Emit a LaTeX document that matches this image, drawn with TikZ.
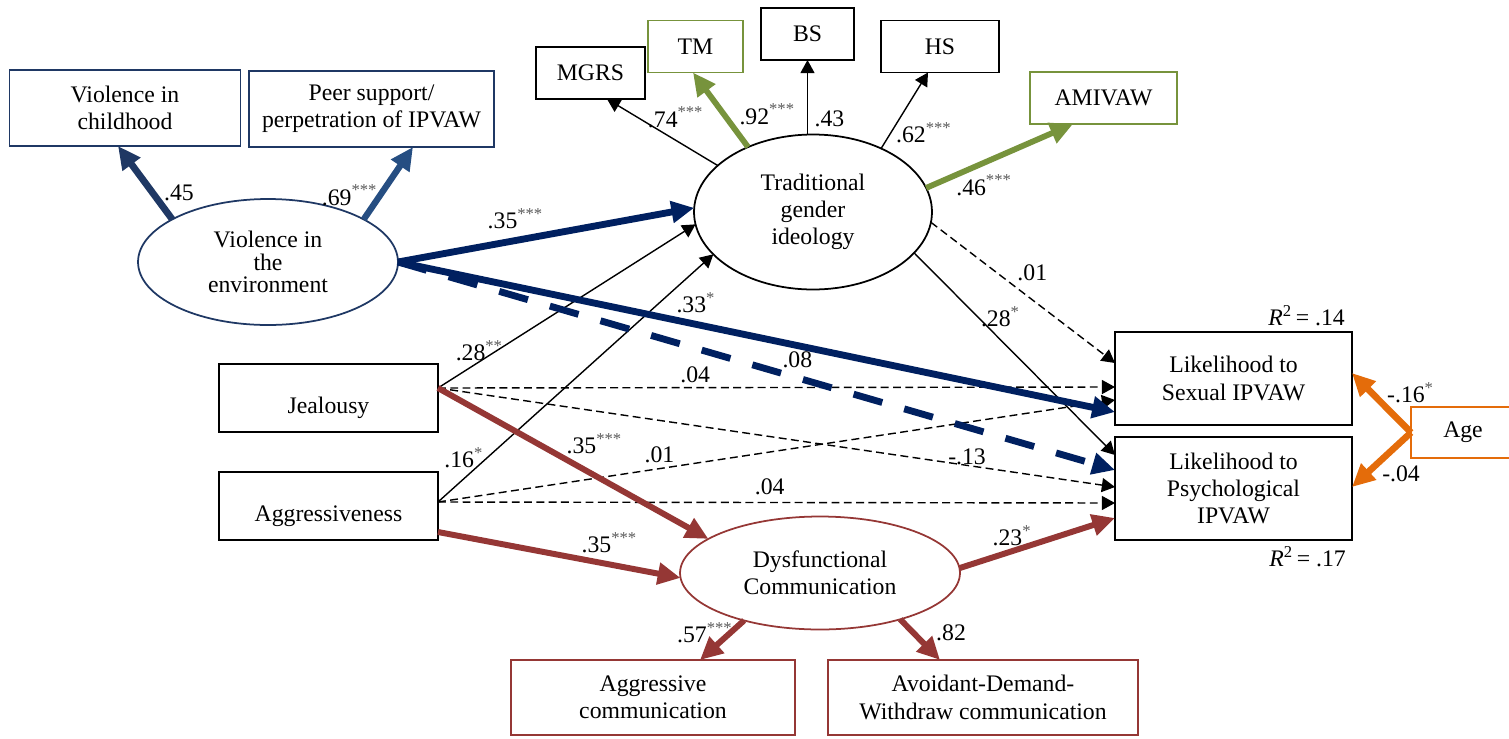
\documentclass[tikz,border=0pt]{standalone}
\usepackage{fontspec}
\setmainfont{Liberation Serif}
\usetikzlibrary{shapes.geometric, arrows.meta, positioning}
\definecolor{navy}{RGB}{0,32,96}
\definecolor{envblue}{RGB}{31,56,100}
\definecolor{peerblue}{RGB}{38,78,130}
\definecolor{tgigreen}{RGB}{119,147,60}
\definecolor{brick}{RGB}{149,55,53}
\definecolor{ageorange}{RGB}{228,108,10}
\newcommand{\dfont}{\fontsize{13.5}{15.5}\selectfont}
\newcommand{\sig}[1]{\textsuperscript{\textcolor{black!65}{#1}}}

\begin{document}
\begin{tikzpicture}[x=0.02cm, y=-0.02cm,
  obs/.style={rectangle, draw=black, line width=1pt, minimum height=1.04cm, inner sep=2pt, outer sep=0pt, align=center, font=\dfont},
  lat/.style={ellipse, draw=black, line width=1pt, inner sep=1pt, outer sep=0pt, align=center, font=\dfont},
  lowtxt/.style={text height=18.9pt, text depth=1.6pt},
  lbl/.style={inner sep=1pt, font=\dfont, text=black},
  arr/.style={-{Triangle[length=7.5pt,width=8pt]}, line width=0.8pt},
  dsh/.style={arr, dash pattern=on 4.5pt off 2.5pt},
  fat/.style={-{Triangle[length=13pt,width=12pt]}, line width=3.6pt},
  navyarr/.style={fat, color=navy, line width=3.9pt},
  navydash/.style={navyarr, dash pattern=on 17pt off 13pt},
  grnarr/.style={fat, color=tgigreen, line width=3.3pt},
  redarr/.style={fat, color=brick, line width=3.4pt},
  orgarr/.style={fat, color=ageorange, line width=3.8pt}
]
  \useasboundingbox (0,0) rectangle (1509,738);

  % violence in the environment
  \node[obs, draw=envblue, minimum width=4.62cm, minimum height=1.52cm] (child) at (125,108) {Violence in\\childhood};
  \node[obs, draw=envblue, minimum width=4.9cm, minimum height=1.52cm] (peer) at (371.5,109) {Peer support/\\perpetration of IPVAW};
  \node[lat, draw=envblue, minimum width=5.2cm, minimum height=2.52cm, font=\fontsize{13.5}{13}\selectfont] (env) at (268,262) {Violence in\\the\\environment};

  % traditional gender ideology
  \node[obs, minimum width=2.18cm] (mgrs) at (590.5,73) {MGRS};
  \node[obs, draw=tgigreen, line width=0.9pt, minimum width=1.9cm] (tm) at (695.5,46.5) {TM};
  \node[obs, minimum width=1.86cm] (bs) at (807.5,34) {BS};
  \node[obs, minimum width=2.36cm] (hs) at (940,46.5) {HS};
  \node[obs, draw=tgigreen, line width=0.9pt, minimum width=2.94cm] (amivaw) at (1103.5,98) {AMIVAW};
  \node[lat, minimum width=4.76cm, minimum height=3.1cm] (tgi) at (813,212) {Traditional\\gender\\ideology};

  % predictors and outcomes
  \node[obs, lowtxt, minimum width=4.38cm, minimum height=1.36cm] (jeal) at (328.5,398) {Jealousy};
  \node[obs, lowtxt, minimum width=4.38cm, minimum height=1.36cm] (aggr) at (328.5,506) {Aggressiveness};
  \node[obs, minimum width=4.74cm, minimum height=1.86cm] (sex) at (1233.5,378.5) {Likelihood to\\Sexual IPVAW};
  \node[obs, minimum width=4.74cm, minimum height=2.06cm] (psy) at (1233.5,488.5) {Likelihood to\\Psychological\\IPVAW};
  \node[obs, draw=ageorange, line width=0.9pt, minimum width=2.08cm, minimum height=1.02cm] (age) at (1463,432.5) {Age};
  \node[lbl, anchor=south east] (r2sex) at ([xshift=-0.1cm,yshift=0.08cm]sex.north east) {\textit{R}\textsuperscript{2}\,= .14};
  \node[lbl, anchor=north east] (r2psy) at ([xshift=-0.08cm,yshift=-0.08cm]psy.south east) {\textit{R}\textsuperscript{2}\,= .17};

  % dysfunctional communication
  \node[lat, draw=brick, minimum width=5.6cm, minimum height=2.26cm] (dysf) at (820,573) {Dysfunctional\\Communication};
  \node[obs, draw=brick, line width=0.9pt, minimum width=5.68cm, minimum height=1.5cm] (aggcom) at (653,697.5) {Aggressive\\communication};
  \node[obs, draw=brick, line width=0.9pt, minimum width=6.2cm, minimum height=1.5cm] (adw) at (983,697.5) {Avoidant-Demand-\\Withdraw communication};

  % thin paths
  \draw[arr] (tgi.154) -- node[lbl, pos=.47, shift={(10,-17)}] {.74\sig{***}} ([xshift=0.33cm]mgrs.south);
  \draw[arr] (tgi.north -| bs.south) -- node[lbl, pos=.21, shift={(22,0)}] {.43} (bs.south);
  \draw[arr] (tgi.43) -- node[lbl, pos=.4, shift={(24,15)}] {.62\sig{***}} ([xshift=-0.24cm]hs.south);
  \draw[dsh] (tgi.355) -- node[lbl, pos=.48, shift={(13,-17)}] {.01} ([yshift=0.31cm]sex.west);
  \draw[arr] (tgi.338) -- node[lbl, pos=.37, shift={(12,-11)}] {.28\sig{*}} ([yshift=0.67cm]psy.west);
  \draw[arr] ([yshift=0.2cm]jeal.east) -- node[lbl, pos=.18, shift={(-5,-8)}] {.28\sig{**}} (tgi.186);
  \draw[arr] ([yshift=0.08cm]aggr.east) -- node[lbl, pos=.13, shift={(-10,-12)}] {.16\sig{*}} (tgi.203);
  \draw[dsh] ([yshift=0.2cm]jeal.east) -- node[lbl, pos=.38, shift={(0,-13)}] {.04} ([yshift=-0.17cm]sex.west);
  \draw[dsh] ([yshift=0.2cm]jeal.east) -- node[lbl, pos=.78, shift={(1,-8)}] {-.13} ([yshift=0.03cm]psy.west);
  \draw[dsh] ([yshift=0.08cm]aggr.east) -- node[lbl, pos=.33, shift={(-2,-14)}] {.01} ([yshift=-0.43cm]sex.west);
  \draw[dsh] ([yshift=0.08cm]aggr.east) -- node[lbl, pos=.49, shift={(0,-16)}] {.04} ([yshift=-0.29cm]psy.west);

  % thick paths
  \draw[fat, color=envblue, line width=3.9pt] (env.156) -- node[lbl, pos=.19, shift={(17,-13)}] {.45} ([xshift=-0.14cm]child.south);
  \draw[fat, color=peerblue] (env.24) -- node[lbl, pos=.14, shift={(-21,-14)}] {.69\sig{***}} ([xshift=0.83cm]peer.south);
  \draw[navydash] (env.east) -- node[lbl, pos=.55, shift={(5,-17)}] {.08} ([yshift=0.37cm]psy.west);
  \draw[navyarr] (env.east) -- node[lbl, pos=.41, shift={(-4,-21)}] {.35\sig{***}} (tgi.178);
  \draw[navyarr] (env.east) -- node[lbl, pos=.41, shift={(4,-21)}] {.33\sig{*}} ([yshift=-0.67cm]sex.west);
  \draw[grnarr] (tgi.135) -- node[lbl, pos=.16, shift={(28,-21)}] {.92\sig{***}} ([xshift=-0.05cm]tm.south);
  \draw[grnarr] (tgi.12) -- node[lbl, pos=.34, shift={(8,19)}] {.46\sig{***}} ([xshift=-0.61cm]amivaw.south);
  \draw[redarr] ([yshift=0.2cm]jeal.east) -- node[lbl, pos=.53, shift={(13,-24)}] {.35\sig{***}} (dysf.163);
  \draw[redarr] ([yshift=-0.52cm]aggr.east) -- node[lbl, pos=.69, shift={(4,-21)}] {.35\sig{***}} (dysf.182);
  \draw[redarr] (dysf.2) -- node[lbl, pos=.37, shift={(-5,-14)}] {.23\sig{*}} ([yshift=-0.59cm]psy.west);
  \draw[redarr] (dysf.212) -- node[lbl, pos=.64, shift={(-11,-13)}] {.57\sig{***}} ([xshift=0.94cm]aggcom.north);
  \draw[redarr] (dysf.330) -- node[lbl, pos=.8, shift={(19,-19)}] {.82} ([xshift=-0.86cm]adw.north);
  \draw[orgarr] (age.west) -- node[lbl, pos=.33, shift={(19,-20)}] {-.16\sig{*}} ([yshift=0.11cm]sex.east);
  \draw[orgarr] (age.west) -- node[lbl, pos=.44, shift={(16,17)}] {-.04} ([yshift=0.03cm]psy.east);
\end{tikzpicture}
\end{document}
